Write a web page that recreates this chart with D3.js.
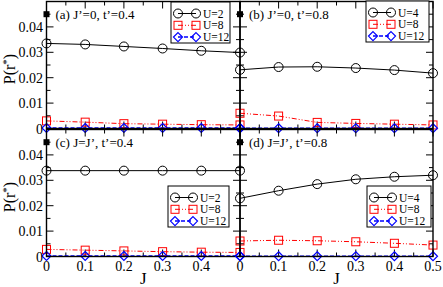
<!DOCTYPE html>
<html>
<head>
<meta charset="utf-8">
<script src="https://cdn.jsdelivr.net/npm/d3@7"></script>
<style>
  body { margin: 0; background: #fff; }
  svg { display: block; font-family: "Liberation Serif", "DejaVu Serif", serif; }
</style>
</head>
<body>
<svg id="chart" width="443" height="287"></svg>
<script>
// J values on the x axis
const jValues = [0, 0.1, 0.2, 0.3, 0.4, 0.5];

// (a) J'=0, t'=0.4
const a_U2  = [0.0335, 0.0331, 0.0323, 0.0315, 0.0306, 0.0299];
const a_U8  = [0.0030, 0.0025, 0.0019, 0.0017, 0.0015, 0.0014];
const a_U12 = [0.0002, 0.0002, 0.0002, 0.0002, 0.0002, 0.0002];
// (b) J'=0, t'=0.8
const b_U4  = [0.0231, 0.0242, 0.0243, 0.0238, 0.0230, 0.0218];
const b_U8  = [0.0060, 0.0049, 0.0024, 0.0020, 0.0017, 0.0014];
const b_U12 = [0.0001, 0.0001, 0.0001, 0.0001, 0.0001, 0.0001];
// (c) J=J', t'=0.4
const c_U2  = [0.0338, 0.0338, 0.0338, 0.0338, 0.0338, 0.0338];
const c_U8  = [0.0028, 0.0025, 0.0022, 0.0019, 0.0017, 0.0016];
const c_U12 = [0.0002, 0.0002, 0.0002, 0.0002, 0.0002, 0.0002];
// (d) J=J', t'=0.8
const d_U4  = [0.0229, 0.0259, 0.0285, 0.0304, 0.0314, 0.0320];
const d_U8  = [0.0061, 0.0064, 0.0062, 0.0058, 0.0052, 0.0045];
const d_U12 = [0.0001, 0.0001, 0.0001, 0.0001, 0.0001, 0.0001];

const panelLabels = ["(a) J\u2019=0, t\u2019=0.4", "(b) J\u2019=0, t\u2019=0.8",
                     "(c) J=J\u2019, t\u2019=0.4", "(d) J=J\u2019, t\u2019=0.8"];
const markerY = 0.045;   // black square beside each panel label
const yTickLabels = [0, 0.01, 0.02, 0.03, 0.04];
const xTickLabelsLeft = [0, 0.1, 0.2, 0.3, 0.4];
const xTickLabelsRight = [0, 0.1, 0.2, 0.3, 0.4, 0.5];

const styles = {
    circle:  { color: "#000", dash: null, width: 1 },
    square:  { color: "#ff0000", dash: "5,2,1,2,1,2", width: 1 },
    diamond: { color: "#0000ff", dash: "4,2", width: 1.5 }
};

const svg = d3.select("#chart");

const xLeft = d3.scaleLinear().domain([0, 0.5]).range([46.5, 240]);
const xRight = d3.scaleLinear().domain([0, 0.5]).range([240, 433]);
const yTop = d3.scaleLinear().domain([0, 0.05]).range([128.5, 1.5]);
const yBot = d3.scaleLinear().domain([0, 0.05]).range([256.5, 129.5]);

const panels = [
    { x: xLeft,  y: yTop, label: panelLabels[0], names: ["U=2", "U=8", "U=12"], data: [a_U2, a_U8, a_U12], legend: [171, 2, 59], yLabels: true, xLabels: null },
    { x: xRight, y: yTop, label: panelLabels[1], names: ["U=4", "U=8", "U=12"], data: [b_U4, b_U8, b_U12], legend: [366, 1, 63], yLabels: false, xLabels: null },
    { x: xLeft,  y: yBot, label: panelLabels[2], names: ["U=2", "U=8", "U=12"], data: [c_U2, c_U8, c_U12], legend: [168, 186, 61], yLabels: true, xLabels: xTickLabelsLeft },
    { x: xRight, y: yBot, label: panelLabels[3], names: ["U=4", "U=8", "U=12"], data: [d_U4, d_U8, d_U12], legend: [367, 186, 64], yLabels: false, xLabels: xTickLabelsRight }
];
const shapes = ["circle", "square", "diamond"];

function drawMarker(g, shape, cx, cy) {
    const st = styles[shape];
    if (shape === "circle") {
        g.append("circle").attr("cx", cx).attr("cy", cy).attr("r", 4.5)
            .attr("fill", "none").attr("stroke", st.color).attr("stroke-width", 1);
    } else if (shape === "square") {
        g.append("rect").attr("x", cx - 4).attr("y", cy - 4).attr("width", 8).attr("height", 8)
            .attr("fill", "none").attr("stroke", st.color).attr("stroke-width", 1);
    } else {
        g.append("path").attr("d", `M${cx},${cy - 4.5}L${cx + 4.5},${cy}L${cx},${cy + 4.5}L${cx - 4.5},${cy}Z`)
            .attr("fill", "none").attr("stroke", st.color).attr("stroke-width", 1.2);
    }
}

panels.forEach(p => {
    const g = svg.append("g");
    const [x0, x1] = p.x.range();
    const [yb, yt] = p.y.range();

    // inward ticks on all four sides
    const ticks = g.append("g").attr("stroke", "#000").attr("stroke-width", 1);
    d3.range(0, 0.5001, 0.05).forEach((v, i) => {
        const len = i % 2 === 0 ? 7 : 4;
        const xx = p.x(v);
        ticks.append("line").attr("x1", xx).attr("x2", xx).attr("y1", yb).attr("y2", yb - len);
        ticks.append("line").attr("x1", xx).attr("x2", xx).attr("y1", yt).attr("y2", yt + len);
    });
    d3.range(0, 0.0501, 0.005).forEach((v, i) => {
        const len = i % 2 === 0 ? 7 : 4;
        const yy = p.y(v);
        ticks.append("line").attr("x1", x0).attr("x2", x0 + len).attr("y1", yy).attr("y2", yy);
        ticks.append("line").attr("x1", x1).attr("x2", x1 - len).attr("y1", yy).attr("y2", yy);
    });

    // series
    p.data.forEach((vals, si) => {
        const st = styles[shapes[si]];
        const line = d3.line().x((d, i) => p.x(jValues[i])).y(d => p.y(d));
        g.append("path").datum(vals).attr("d", line)
            .attr("fill", "none").attr("stroke", st.color)
            .attr("stroke-width", st.width).attr("stroke-dasharray", st.dash);
        vals.forEach((v, i) => drawMarker(g, shapes[si], p.x(jValues[i]), p.y(v)));
    });

    // frame
    g.append("rect").attr("x", x0).attr("y", yt).attr("width", x1 - x0).attr("height", yb - yt)
        .attr("fill", "none").attr("stroke", "#000").attr("stroke-width", 1.4);

    // label with black square
    g.append("rect").attr("x", p.x(0) - 3).attr("y", p.y(markerY) - 3).attr("width", 6).attr("height", 6).attr("fill", "#000");
    g.append("text").attr("x", p.x(0) + 9).attr("y", p.y(markerY) + 5)
        .attr("font-size", 13).text(p.label);

    // legend
    const [lx, ly, lw] = p.legend;
    const lg = g.append("g");
    lg.append("rect").attr("x", lx).attr("y", ly).attr("width", lw).attr("height", 41)
        .attr("fill", "#fff").attr("stroke", "#000").attr("stroke-width", 1);
    p.names.forEach((name, si) => {
        const st = styles[shapes[si]];
        const ry = ly + 11.5 + si * 11.8;
        lg.append("line").attr("x1", lx + 7).attr("x2", lx + 25).attr("y1", ry).attr("y2", ry)
            .attr("stroke", st.color).attr("stroke-width", st.width).attr("stroke-dasharray", st.dash);
        drawMarker(lg, shapes[si], lx + 7, ry);
        drawMarker(lg, shapes[si], lx + 25, ry);
        lg.append("text").attr("x", lx + 32).attr("y", ry + 4).attr("font-size", 11.5).text(name);
    });

    // tick labels
    if (p.yLabels) {
        yTickLabels.forEach(v => {
            g.append("text").attr("x", 43).attr("y", p.y(v) + 5).attr("text-anchor", "end")
                .attr("font-size", 14).text(v === 0 ? "0" : d3.format(".2f")(v));
        });
        g.append("text")
            .attr("transform", `translate(15,${(yb + yt) / 2 + 4}) rotate(-90)`)
            .attr("text-anchor", "middle").attr("font-size", 16)
            .html('P(r<tspan dy="-5" font-size="11">*</tspan><tspan dy="5">)</tspan>');
    }
    if (p.xLabels) {
        p.xLabels.forEach(v => {
            g.append("text").attr("x", p.x(v)).attr("y", 271).attr("text-anchor", "middle")
                .attr("font-size", 14).text(v === 0 ? "0" : d3.format(".1f")(v));
        });
        g.append("text").attr("x", p.x(0.25)).attr("y", 284).attr("text-anchor", "middle")
            .attr("font-size", 17).text("J");
    }
});
</script>
</body>
</html>
